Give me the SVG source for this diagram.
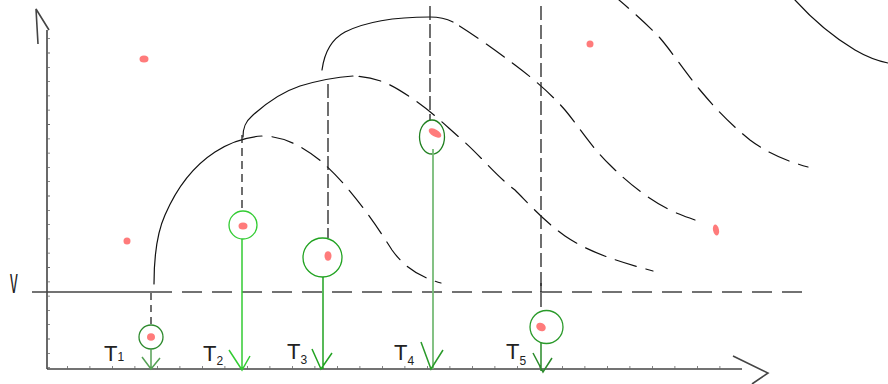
<svg xmlns="http://www.w3.org/2000/svg" width="888" height="384" viewBox="0 0 888 384">
<style>
.ax{stroke:#444;stroke-width:1.6;fill:none}
.tk{stroke:#666;stroke-width:3;fill:none}
.cv{stroke:#111;stroke-width:1.2;fill:none;stroke-linecap:round}
.dsh{stroke-dasharray:22 10}
.vd{stroke:#222;stroke-width:1.3;fill:none}
.dot{fill:#ff7b7b}
.lbl{font-family:"Liberation Sans",Arial,sans-serif;font-size:22px;fill:#222}
.sub{font-size:12px}
</style>
<rect width="888" height="384" fill="#fff"/>
<g id="axes">
  <path class="ax" d="M47,369 V30"/>
  <path class="ax" d="M38,44 L36,9 L49,30"/>
  <path class="tk" d="M48.5,368 V32" stroke-width="2.5" stroke-dasharray="0.8 13.5"/>
  <path class="ax" d="M47,369 H742"/>
  <path class="tk" d="M67,367.5 H742" stroke-width="2.5" stroke-dasharray="0.8 21.7"/>
  <path class="ax" d="M733,356 L768,373 L752,384"/>
  <path class="ax" d="M32,292 H172"/>
  <path class="ax" d="M182,292 H808" stroke-dasharray="20 10"/>
  <text class="lbl" font-size="24" transform="translate(10,293) scale(0.7,1.6)">v</text>
</g>
<g id="connectors">
  <path class="cv" d="M154,284 C154,260 156,235 165,215 C178,185 195,165 215,152 C232,141 248,137 262,136"/>
  <path class="cv dsh" stroke-dashoffset="-10" d="M262,136 C285,136 305,148 322,162 C345,182 370,215 392,250 C405,268 420,277 441,283"/>
  <path class="cv" d="M243,137 C243,128 245,122 252,116 C265,104 282,92 300,86 C320,80 338,77 353,76"/>
  <path class="cv dsh" stroke-dashoffset="-6" d="M353,76 C380,77 395,87 410,97 C430,110 445,125 460,138 C480,155 495,175 515,190 C530,205 545,222 565,236 C590,253 620,262 653,271"/>
  <path class="cv" d="M322,70 C324,55 330,40 345,32 C365,22 395,17 430,17 C440,17 447,19 453,22"/>
  <path class="cv dsh" stroke-dashoffset="-8" d="M453,22 C470,32 495,50 515,65 C535,80 552,95 565,110 C580,128 592,148 610,165 C630,185 650,200 670,210 C680,215 690,218 695,220"/>
  <path class="cv dsh" d="M612,-6 C625,5 645,22 660,38 C672,52 685,72 700,90 C715,108 730,124 750,140 C770,155 790,162 808,167"/>
  <path class="cv" d="M795,0 C815,22 835,38 855,50 C867,57 878,61 888,63"/>
  <path class="vd" d="M151,293 V325" stroke="#666" stroke-dasharray="7 5"/>
  <path class="vd" d="M242,135 V211" stroke-dasharray="8 5"/>
  <path class="vd" d="M328,84 V238" stroke-dasharray="14 4"/>
  <path class="vd" d="M430,6 V120" stroke="#444" stroke-dasharray="14 4"/>
  <path class="vd" d="M541,6 V292" stroke="#555" stroke-dasharray="14 5"/>
  <path class="vd" d="M541,283 V307" stroke="#666"/>
</g>
<g id="points">
  <ellipse class="dot" cx="144" cy="59" rx="4.5" ry="3.5"/>
  <ellipse class="dot" cx="127" cy="241" rx="3.5" ry="3.5"/>
  <ellipse class="dot" cx="590" cy="44" rx="3.5" ry="3.5"/>
  <ellipse class="dot" cx="716" cy="230" rx="3" ry="5.5" transform="rotate(-12 716 230)"/>
</g>
<g id="T1">
  <circle cx="151" cy="337" r="12" fill="none" stroke="#2d8a2d" stroke-width="1.3"/>
  <ellipse class="dot" cx="151" cy="337" rx="4" ry="3.8"/>
  <path d="M151,349 V369 M142,357 L151,369 L160,358" fill="none" stroke="#55a055" stroke-width="1.5"/>
  <text class="lbl" x="104" y="361">T<tspan class="sub" dy="0">1</tspan></text>
</g>
<g id="T2">
  <circle cx="243" cy="225" r="14" fill="none" stroke="#33cc33" stroke-width="1.3"/>
  <ellipse class="dot" cx="243" cy="226" rx="4.5" ry="3.5"/>
  <path d="M242,239 V369 M229,350 L242,370 L250,356" fill="none" stroke="#33cc33" stroke-width="1.5"/>
  <text class="lbl" x="203" y="361">T<tspan class="sub" dy="4">2</tspan></text>
</g>
<g id="T3">
  <circle cx="322.5" cy="257.5" r="19.5" fill="none" stroke="#22a322" stroke-width="1.3"/>
  <ellipse class="dot" cx="328" cy="256" rx="3.5" ry="4.8"/>
  <path d="M323,277 V369 M312,349 L321,369 L332,353" fill="none" stroke="#22a322" stroke-width="1.5"/>
  <text class="lbl" x="287" y="359">T<tspan class="sub" dy="5">3</tspan></text>
</g>
<g id="T4">
  <ellipse cx="432" cy="137" rx="12.5" ry="17" fill="none" stroke="#1f7f1f" stroke-width="1.3"/>
  <ellipse class="dot" cx="435" cy="133" rx="7" ry="3.6" transform="rotate(30 435 133)"/>
  <path d="M433,149 V369" fill="none" stroke="#77bb77" stroke-width="1.8"/>
  <path d="M421,342 L431,369 L443,350" fill="none" stroke="#2a9a2a" stroke-width="1.5"/>
  <text class="lbl" x="394" y="360">T<tspan class="sub" dy="5">4</tspan></text>
</g>
<g id="T5">
  <circle cx="546.5" cy="327" r="16.5" fill="none" stroke="#2a9a2a" stroke-width="1.3"/>
  <ellipse class="dot" cx="541" cy="327" rx="5" ry="4" transform="rotate(30 541 327)"/>
  <path d="M541,343 V371 M533,353 L543,372 L552,358" fill="none" stroke="#2a8a2a" stroke-width="1.5"/>
  <text class="lbl" x="506" y="359">T<tspan class="sub" dy="6">5</tspan></text>
</g>
</svg>
